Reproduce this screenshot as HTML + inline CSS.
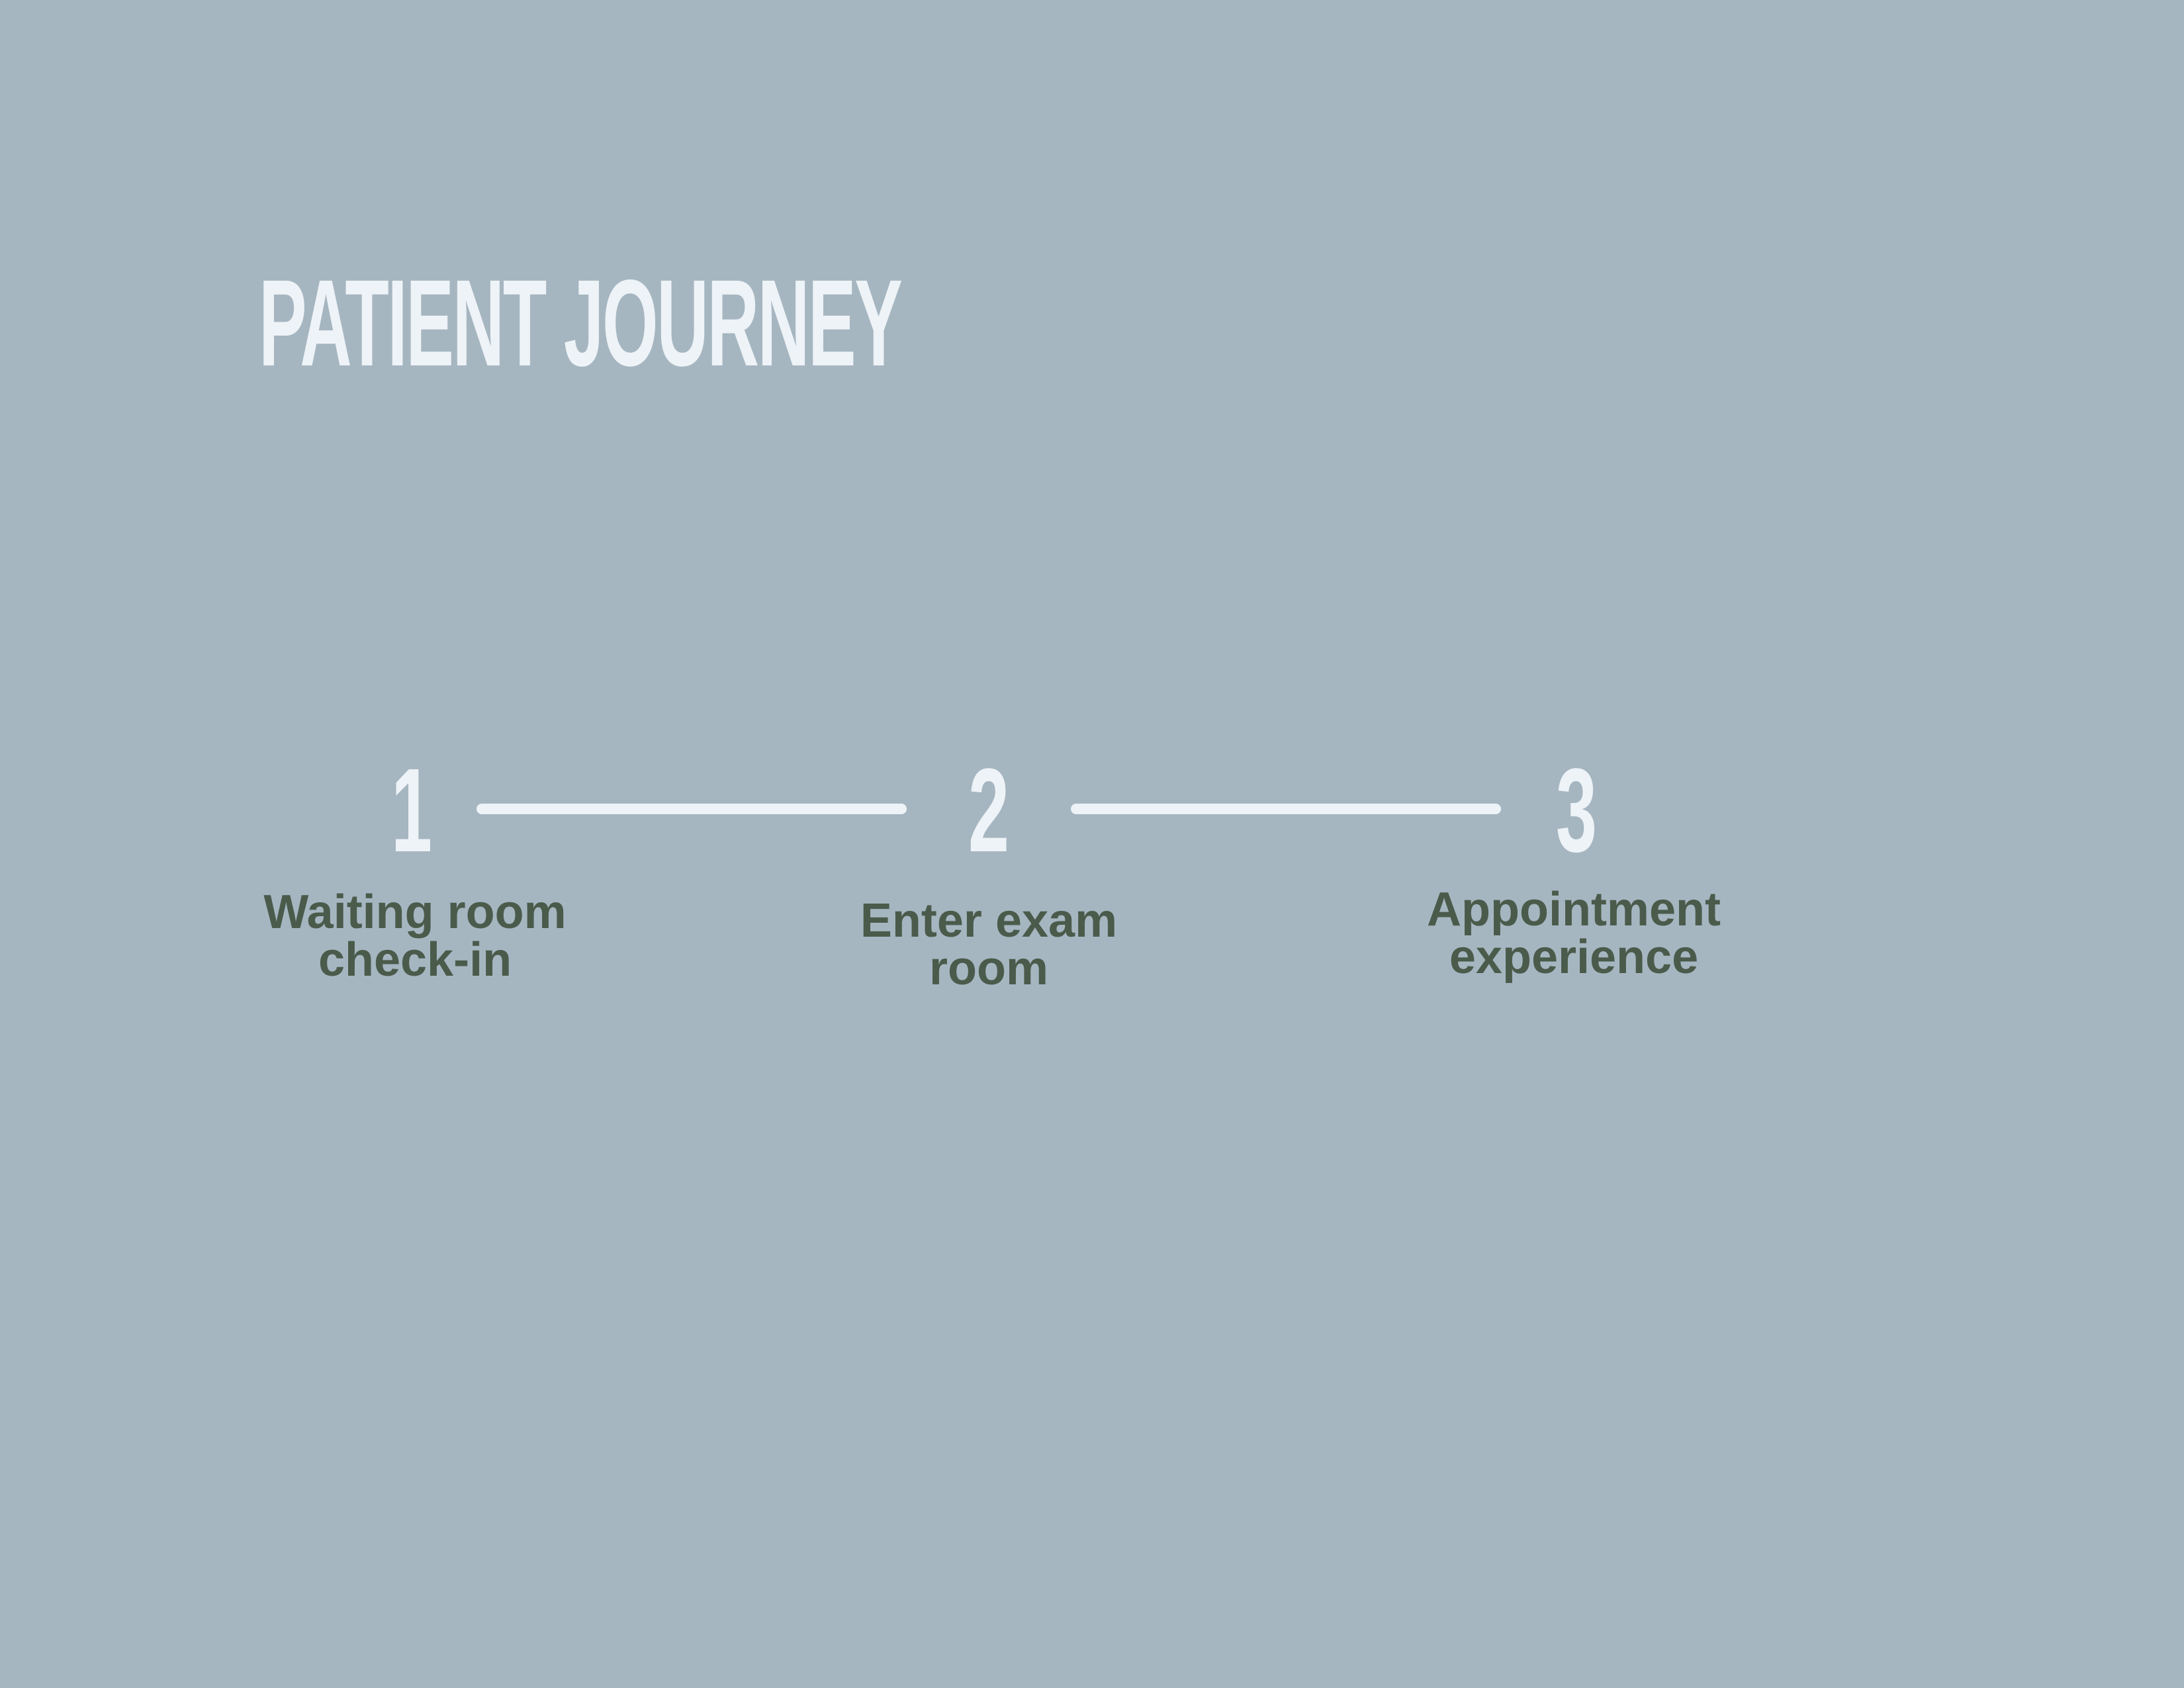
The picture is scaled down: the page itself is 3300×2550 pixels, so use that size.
<!DOCTYPE html>
<html><head><meta charset="utf-8"><style>
html,body{margin:0;padding:0}
body{width:3300px;height:2550px;background:#a6b6c1;position:relative;overflow:hidden;font-family:"Liberation Sans",sans-serif}
.t{position:absolute;color:#eef3f7;font-weight:bold;white-space:nowrap;transform-origin:0 0}
.n{position:absolute;color:#eef3f7;font-weight:bold;transform-origin:50% 0;text-align:center;width:200px}
.l{position:absolute;height:16px;background:#eef3f7;border-radius:8px}
.lab{position:absolute;color:#4b5b4b;font-weight:bold;font-size:72px;line-height:72px;text-align:center;width:800px}
</style></head><body>
<div class="t" style="left:391px;top:396px;font-size:186px;line-height:186px;transform:scaleX(0.585);letter-spacing:-4px">PATIENT JOURNEY</div>
<div class="n" style="left:522px;top:1135px;font-size:180px;line-height:180px;transform:scaleX(0.62)">1</div>
<div class="n" style="left:1394px;top:1135px;font-size:180px;line-height:180px;transform:scaleX(0.62)">2</div>
<div class="n" style="left:2282px;top:1135px;font-size:180px;line-height:180px;transform:scaleX(0.62)">3</div>
<div class="l" style="left:720px;top:1214px;width:650px"></div>
<div class="l" style="left:1618px;top:1214px;width:650px"></div>
<div class="lab" style="left:227px;top:1342px">Waiting room<br>check-in</div>
<div class="lab" style="left:1094px;top:1355px">Enter exam<br>room</div>
<div class="lab" style="left:1978px;top:1338px">Appointment<br>experience</div>
</body></html>
